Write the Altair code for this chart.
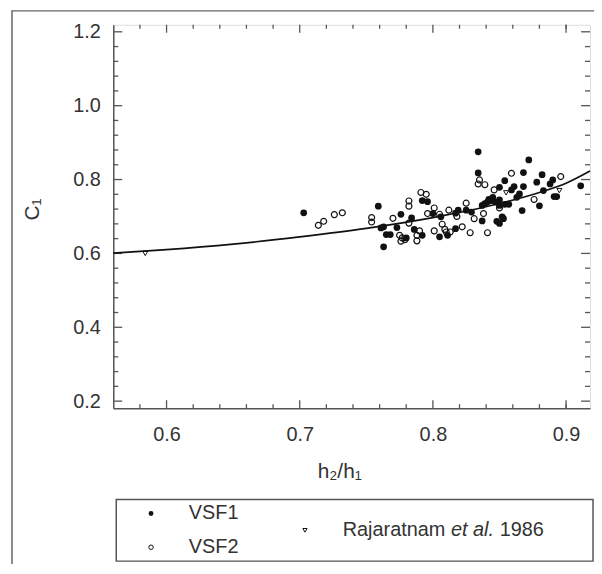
import altair as alt
import pandas as pd

# ---------------- data ----------------
vsf1_x = [0.703, 0.759, 0.776, 0.792, 0.796, 0.784, 0.761, 0.763, 0.765, 0.768, 0.773, 0.763,
          0.786, 0.780, 0.792, 0.800, 0.805, 0.811,
          0.834, 0.834, 0.872, 0.868, 0.882, 0.878, 0.890, 0.888, 0.911, 0.891, 0.893, 0.883,
          0.880, 0.867, 0.868, 0.865, 0.863, 0.861, 0.859, 0.854, 0.850, 0.845, 0.844, 0.850,
          0.850, 0.854, 0.857, 0.839, 0.837, 0.841, 0.847, 0.852, 0.853, 0.848, 0.850, 0.837,
          0.829, 0.825, 0.819, 0.817, 0.806, 0.817, 0.842]
vsf1_y = [0.710, 0.728, 0.706, 0.743, 0.740, 0.696, 0.669, 0.672, 0.651, 0.651, 0.670, 0.618,
          0.665, 0.642, 0.649, 0.708, 0.645, 0.649,
          0.875, 0.818, 0.853, 0.819, 0.813, 0.793, 0.799, 0.788, 0.783, 0.754, 0.754, 0.770,
          0.729, 0.716, 0.781, 0.761, 0.752, 0.781, 0.772, 0.797, 0.779, 0.752, 0.743, 0.745,
          0.730, 0.733, 0.733, 0.735, 0.730, 0.739, 0.739, 0.699, 0.694, 0.687, 0.681, 0.688,
          0.712, 0.717, 0.717, 0.709, 0.699, 0.667, 0.746]

vsf2_x = [0.714, 0.718, 0.726, 0.732, 0.754, 0.754, 0.770, 0.782, 0.782, 0.782, 0.791, 0.795,
          0.796, 0.801, 0.805, 0.807, 0.809, 0.801, 0.775, 0.777, 0.779, 0.776, 0.788, 0.788,
          0.790,
          0.859, 0.835, 0.834, 0.839, 0.846, 0.896, 0.876, 0.850, 0.838, 0.825, 0.812, 0.831,
          0.818, 0.810, 0.822, 0.813, 0.828, 0.841]
vsf2_y = [0.676, 0.687, 0.705, 0.710, 0.697, 0.685, 0.695, 0.728, 0.742, 0.682, 0.765, 0.760,
          0.708, 0.723, 0.706, 0.679, 0.665, 0.661, 0.649, 0.642, 0.637, 0.633, 0.649, 0.634,
          0.661,
          0.817, 0.799, 0.788, 0.786, 0.772, 0.808, 0.746, 0.723, 0.708, 0.736, 0.717, 0.694,
          0.700, 0.658, 0.672, 0.658, 0.656, 0.656]

raj_x = [0.584, 0.855, 0.895]
raj_y = [0.600, 0.764, 0.770]

curve_x = [0.56, 0.60, 0.65, 0.70, 0.75, 0.80, 0.85, 0.88, 0.90, 0.918]
curve_y = [0.601, 0.610, 0.625, 0.645, 0.668, 0.697, 0.735, 0.765, 0.790, 0.823]

x_major = [0.6, 0.7, 0.8, 0.9]
x_minor = [0.58, 0.62, 0.64, 0.66, 0.68, 0.72, 0.74, 0.76, 0.78, 0.82, 0.84, 0.86, 0.88, 0.90]
y_major = [0.2, 0.4, 0.6, 0.8, 1.0, 1.2]
y_minor = [0.24, 0.28, 0.32, 0.36, 0.44, 0.48, 0.52, 0.56, 0.64, 0.68, 0.72, 0.76,
           0.84, 0.88, 0.92, 0.96, 1.04, 1.08, 1.12, 1.16]

x_domain = [0.56, 0.918]
y_domain = [0.181, 1.219]

# ---------------- layout constants ----------------
W, H = 480, 386
FONT = "Liberation Sans"
AX = "#555555"
INK = "#111111"
TXT = "#333333"

xs = alt.Scale(domain=x_domain, nice=False, zero=False)
ys = alt.Scale(domain=y_domain, nice=False, zero=False)

x_axis = alt.Axis(values=x_major, format=".1f", ticks=False, tickSize=0, labelPadding=17,
                  labelFontSize=20, labelFont=FONT, labelColor=TXT, domainColor=AX,
                  domainWidth=1.5, grid=False, title=None)
y_axis = alt.Axis(values=y_major, format=".1f", ticks=False, tickSize=0, labelPadding=13,
                  labelFontSize=20, labelFont=FONT, labelColor=TXT, domainColor=AX,
                  domainWidth=1.5, grid=False, title=None)

df1 = pd.DataFrame({"x": vsf1_x, "y": vsf1_y})
df2 = pd.DataFrame({"x": vsf2_x, "y": vsf2_y})
df3 = pd.DataFrame({"x": raj_x, "y": raj_y})
dfc = pd.DataFrame({"x": curve_x, "y": curve_y})
one = pd.DataFrame({"a": [0]})

base_axes = alt.Chart(dfc).mark_line(opacity=0).encode(
    x=alt.X("x:Q", scale=xs, axis=x_axis),
    y=alt.Y("y:Q", scale=ys, axis=y_axis),
)

curve = alt.Chart(dfc).mark_line(color=INK, strokeWidth=1.7, interpolate="monotone").encode(
    x=alt.X("x:Q", scale=xs), y=alt.Y("y:Q", scale=ys))

p1 = alt.Chart(df1).mark_point(shape="circle", filled=True, color=INK, size=46, opacity=1).encode(
    x=alt.X("x:Q", scale=xs), y=alt.Y("y:Q", scale=ys))
p2 = alt.Chart(df2).mark_point(shape="circle", filled=False, color=INK, size=36,
                               strokeWidth=1.2, opacity=1).encode(
    x=alt.X("x:Q", scale=xs), y=alt.Y("y:Q", scale=ys))
p3 = alt.Chart(df3).mark_point(shape="triangle-down", filled=False, color=INK, size=26,
                               strokeWidth=1, opacity=1).encode(
    x=alt.X("x:Q", scale=xs), y=alt.Y("y:Q", scale=ys))


def xticks(vals, length):
    d = pd.DataFrame({"v": vals})
    bot = alt.Chart(d).mark_rule(color=AX, strokeWidth=1.3).encode(
        x=alt.X("v:Q", scale=xs), y=alt.value(H), y2=alt.value(H - length))
    top = alt.Chart(d).mark_rule(color=AX, strokeWidth=1.3).encode(
        x=alt.X("v:Q", scale=xs), y=alt.value(0), y2=alt.value(length))
    return [bot, top]


def yticks(vals, length):
    d = pd.DataFrame({"v": vals})
    lef = alt.Chart(d).mark_rule(color=AX, strokeWidth=1.3).encode(
        y=alt.Y("v:Q", scale=ys), x=alt.value(0), x2=alt.value(length))
    rig = alt.Chart(d).mark_rule(color=AX, strokeWidth=1.3).encode(
        y=alt.Y("v:Q", scale=ys), x=alt.value(W), x2=alt.value(W - length))
    return [lef, rig]


ticks = xticks(x_major, 8) + xticks(x_minor, 4) + yticks(y_major, 9) + yticks(y_minor, 5)

# outer frame and legend box
frame = alt.Chart(one).mark_rect(filled=False, stroke="#666666", strokeWidth=1.5,
                                 fillOpacity=0).encode(
    x=alt.value(-102), x2=alt.value(520), y=alt.value(-14), y2=alt.value(600))
legbox = alt.Chart(one).mark_rect(filled=False, stroke=AX, strokeWidth=1.5,
                                  fillOpacity=0).encode(
    x=alt.value(3), x2=alt.value(483), y=alt.value(478), y2=alt.value(540))


def txt(s, x, y, size=20, style="normal", align="left", angle=0, baseline="middle"):
    kw = dict(font=FONT, fontSize=size, color=TXT, align=align, baseline=baseline,
              fontStyle=style)
    if angle:
        kw["angle"] = angle
    return alt.Chart(one).mark_text(**kw).encode(
        x=alt.value(x), y=alt.value(y), text=alt.value(s))


leg_items = [
    alt.Chart(one).mark_point(shape="circle", filled=True, color=INK, size=24, opacity=1).encode(
        x=alt.value(38), y=alt.value(492)),
    alt.Chart(one).mark_point(shape="circle", filled=False, color=INK, size=20, strokeWidth=1,
                              opacity=1).encode(x=alt.value(38), y=alt.value(526)),
    alt.Chart(one).mark_point(shape="triangle-down", filled=False, color=INK, size=18,
                              strokeWidth=1, opacity=1).encode(x=alt.value(193), y=alt.value(509)),
    txt("VSF1", 76, 492),
    txt("VSF2", 76, 526),
    txt("Rajaratnam", 231, 509),
    txt("et al.", 340, 509, style="italic"),
    txt("1986", 389, 509),
]

titles = [
    txt("h₂/h₁", 228, 450, size=21, align="center"),
    txt("C₁", -81, 186, size=21, align="center", angle=270),
]

chart = alt.layer(
    frame, base_axes, *ticks, curve, p2, p1, p3, legbox, *leg_items, *titles
).properties(
    width=W, height=H,
    autosize=alt.AutoSizeParams(type="none"),
    padding={"left": 106, "top": 15, "right": 4, "bottom": 155},
).configure_view(
    stroke=AX, strokeWidth=1.5
).configure(
    background="white"
)

chart.save("out.html", embed_options={"renderer": "svg", "actions": False})
